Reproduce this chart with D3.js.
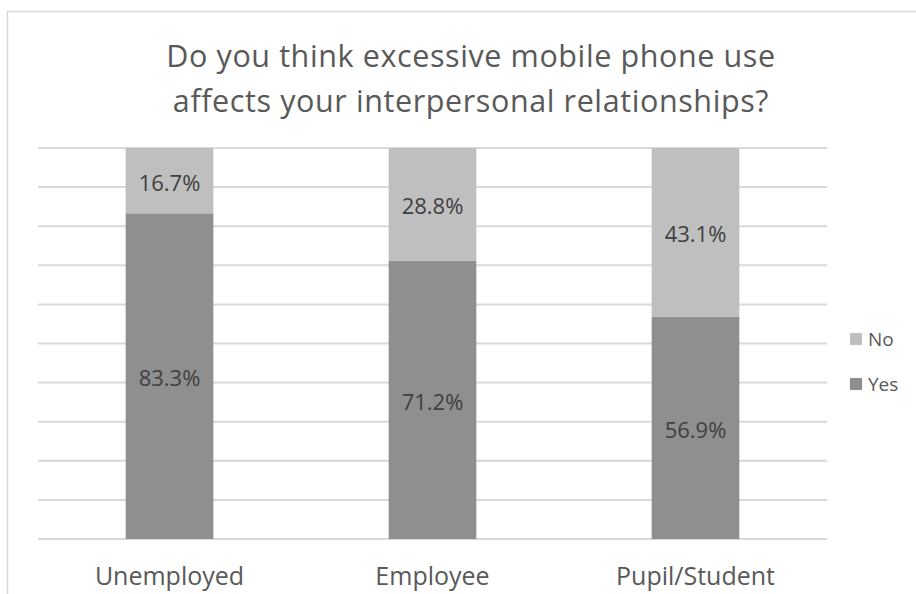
<!DOCTYPE html>
<html>
<head>
<meta charset="utf-8">
<script src="https://cdn.jsdelivr.net/npm/d3@7"></script>
<style>
  html, body { margin: 0; padding: 0; background: #fff; }
  svg { display: block; font-family: "Open Sans", Lato, sans-serif; }
</style>
</head>
<body>
<svg id="chart" width="916" height="594"></svg>
<script>
// Survey answers by occupation (share of respondents, %)
const categories = ["Unemployed", "Employee", "Pupil/Student"];
const yesValues = [83.3, 71.2, 56.9];
const noValues = [16.7, 28.8, 43.1];
const seriesNames = ["Yes", "No"];
const seriesColors = ["#8f8f8f", "#bfbfbf"];
const titleLines = ["Do you think excessive mobile phone use", "affects your interpersonal relationships?"];

const rows = categories.map((c, i) => ({ category: c, Yes: yesValues[i], No: noValues[i] }));
const stacked = d3.stack().keys(seriesNames)(rows);

const svg = d3.select("#chart");
const W = 916, H = 594;
const plot = { left: 38, right: 827, top: 148, bottom: 539 };

// chart frame
svg.append("rect")
  .attr("x", 7.5).attr("y", 11.5)
  .attr("width", W + 20).attr("height", H + 20)
  .attr("fill", "#fff").attr("stroke", "#d9d9d9").attr("stroke-width", 1.5);

// title
svg.append("text")
  .attr("text-anchor", "middle")
  .attr("fill", "#595959")
  .attr("font-size", 30.5)
  .attr("letter-spacing", 0.6)
  .selectAll("tspan").data(titleLines).join("tspan")
  .attr("x", 471)
  .attr("y", (d, i) => 67 + i * 45)
  .text(d => d);

const x = d3.scaleBand().domain(categories).range([plot.left, plot.right]).paddingInner(2 / 3).paddingOuter(1 / 3);
const y = d3.scaleLinear().domain([0, 100]).range([plot.bottom, plot.top]);
const color = d3.scaleOrdinal().domain(seriesNames).range(seriesColors);

// gridlines
svg.append("g")
  .selectAll("line").data(d3.range(0, 101, 10)).join("line")
  .attr("x1", plot.left).attr("x2", plot.right)
  .attr("y1", d => y(d)).attr("y2", d => y(d))
  .attr("stroke", "#d9d9d9").attr("stroke-width", 2);

// stacked bars
const layer = svg.append("g").selectAll("g").data(stacked).join("g")
  .attr("fill", d => color(d.key));

layer.selectAll("rect").data(d => d).join("rect")
  .attr("x", d => x(d.data.category))
  .attr("width", x.bandwidth())
  .attr("y", d => y(d[1]))
  .attr("height", d => y(d[0]) - y(d[1]));

// value labels
layer.selectAll("text").data(d => d).join("text")
  .attr("x", d => x(d.data.category) + x.bandwidth() / 2)
  .attr("y", d => (y(d[0]) + y(d[1])) / 2 + 10)
  .attr("text-anchor", "middle")
  .attr("fill", "#404040")
  .attr("font-size", 22)
  .text(d => (d[1] - d[0]).toFixed(1) + "%");

// category axis
const xAxis = svg.append("g")
  .attr("transform", `translate(0,${plot.bottom})`)
  .call(d3.axisBottom(x).tickSize(0).tickPadding(0));
xAxis.select(".domain").remove();
xAxis.selectAll("text")
  .attr("dy", null)
  .attr("y", 46)
  .attr("fill", "#595959")
  .attr("font-size", 25)
  .attr("font-family", "'Open Sans', Lato, sans-serif");

// legend (No listed above Yes)
const legendItems = ["No", "Yes"];
const legend = svg.append("g").selectAll("g").data(legendItems).join("g")
  .attr("transform", (d, i) => `translate(850,${333 + i * 45})`);
legend.append("rect")
  .attr("width", 12).attr("height", 12)
  .attr("fill", d => color(d));
legend.append("text")
  .attr("x", 18).attr("y", 13)
  .attr("fill", "#595959")
  .attr("font-size", 19)
  .text(d => d);
</script>
</body>
</html>
